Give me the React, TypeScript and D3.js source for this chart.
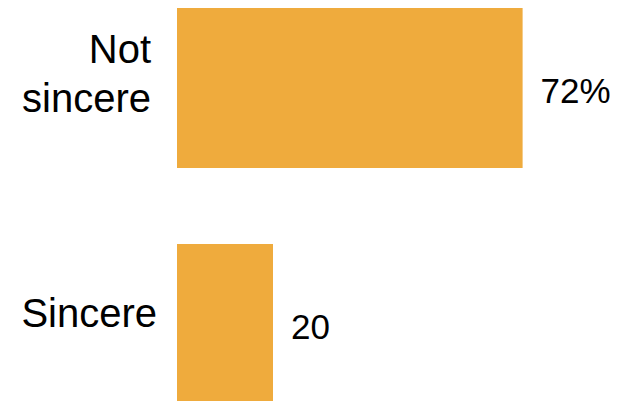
import React from "react";
import * as d3 from "d3";

const categories = ["Not sincere", "Sincere"];
const labelLines = [["Not", "sincere"], ["Sincere"]];
const values = [72, 20];
const valueLabels = ["72%", "20"];

const W = 625;
const H = 401;
const BAR_COLOR = "#EFAB3D";
const FONT = "'Liberation Sans', Arial, sans-serif";

export default function App() {
  const x = d3.scaleLinear().domain([0, 100]).range([177, 657]);
  const y = d3
    .scaleBand<string>()
    .domain(categories)
    .range([8, 404])
    .paddingInner(0.322)
    .paddingOuter(0);
  const bw = y.bandwidth();
  const labelX = [151, 157];

  return (
    <svg
      width={W}
      height={H}
      style={{ position: "absolute", left: 0, top: 0, background: "#fff" }}
    >
      {categories.map((c, i) => {
        const y0 = y(c)!;
        const cy = y0 + bw / 2;
        const lines = labelLines[i];
        const lineH = 49;
        const firstBase = cy + 3 - ((lines.length - 1) * lineH) / 2 - (lines.length > 1 ? 3.5 : 0);
        return (
          <g key={c}>
            <rect
              x={x(0)}
              y={y0}
              width={x(values[i]) - x(0)}
              height={bw}
              fill={BAR_COLOR}
            />
            <text
              x={labelX[i]}
              textAnchor="end"
              fontFamily={FONT}
              fontSize={40}
              fill="#000"
            >
              {lines.map((l, j) => (
                <tspan key={j} x={labelX[i]} y={firstBase + j * lineH}>
                  {l}
                </tspan>
              ))}
            </text>
            <text
              x={x(values[i]) + 18}
              y={cy + 15}
              fontFamily={FONT}
              fontSize={35}
              fill="#000"
            >
              {valueLabels[i]}
            </text>
          </g>
        );
      })}
    </svg>
  );
}
